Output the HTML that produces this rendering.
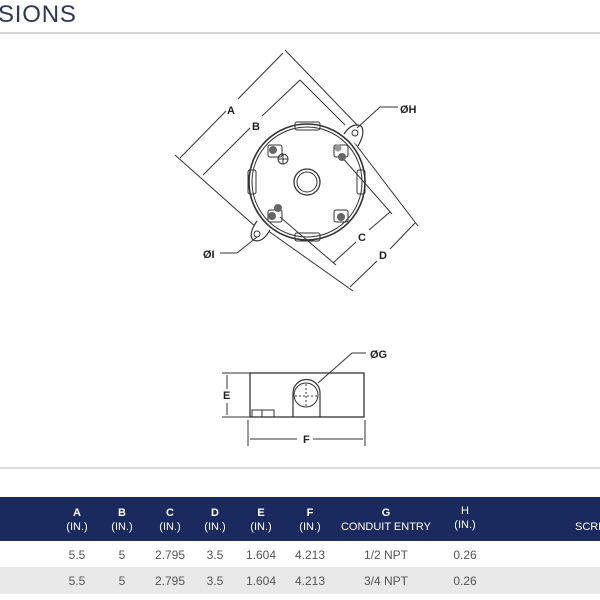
<!DOCTYPE html>
<html><head><style>
html,body{margin:0;padding:0;background:#fff;width:600px;height:600px;overflow:hidden;font-family:"Liberation Sans",sans-serif}
</style></head><body>
<svg width="600" height="600" viewBox="0 0 600 600" xmlns="http://www.w3.org/2000/svg" style="position:absolute;left:0;top:0">
<text x="-2" y="22" font-size="24" fill="#2d3a55" font-family="Liberation Sans" letter-spacing="0.8">SIONS</text>
<line x1="0" y1="33" x2="600" y2="33" stroke="#c8c8c8" stroke-width="1.5"/>
<line x1="0" y1="468" x2="600" y2="468" stroke="#d0d0d0" stroke-width="1.5"/>

<g stroke="#333" stroke-width="1" fill="none">
<!-- A -->
<line x1="180" y1="158" x2="226" y2="111"/><line x1="238" y1="99" x2="283" y2="53"/>
<line x1="285" y1="50" x2="360" y2="128"/><line x1="175" y1="155" x2="257" y2="228"/>
<!-- B -->
<line x1="203" y1="175" x2="250" y2="128"/><line x1="262" y1="116" x2="300" y2="80"/>
<line x1="300" y1="80" x2="345" y2="125"/>
<!-- C -->
<line x1="333" y1="263" x2="356" y2="242"/><line x1="369" y1="230" x2="390" y2="212"/>
<line x1="340" y1="155" x2="392" y2="214"/><line x1="280" y1="217" x2="336" y2="265"/>
<!-- D -->
<line x1="350" y1="287" x2="377" y2="261"/><line x1="390" y1="249" x2="415" y2="223"/>
<line x1="347" y1="133" x2="418" y2="226"/><line x1="257" y1="223" x2="353" y2="291"/>
<!-- tabs -->
<path d="M344 134 Q352 122 361 126 Q366 132 358 146" fill="#fff" stroke-width="1.2"/>
<circle cx="355" cy="133" r="3"/>
<path d="M270 230 Q262 244 253 240 Q248 234 257 221" fill="#fff" stroke-width="1.2"/>
<circle cx="257" cy="234" r="3"/>
<!-- circle -->
<circle cx="307" cy="182" r="58" stroke-width="1.6"/>
<circle cx="307" cy="182" r="55"/>
<circle cx="307" cy="182" r="13" stroke-width="1.3"/>
<circle cx="307" cy="182" r="10"/>
<!-- knockouts -->
<rect x="295" y="122" width="25" height="8" rx="2"/>
<rect x="295" y="233" width="25" height="8" rx="2"/>
<rect x="248" y="170" width="8" height="24" rx="2"/>
<rect x="357" y="170" width="8" height="24" rx="2"/>
<!-- screw bosses -->
<rect x="268" y="145" width="14" height="12" rx="2"/><rect x="334" y="145" width="14" height="12" rx="2"/>
<rect x="268" y="210" width="14" height="12" rx="2"/><rect x="334" y="210" width="14" height="12" rx="2"/>
<circle cx="283" cy="159" r="5"/><line x1="283" y1="154" x2="283" y2="164"/><line x1="278" y1="159" x2="288" y2="159"/>
<!-- leaders -->
<polyline points="357,128 380,107 398,107"/>
<polyline points="257,237 237,253 220,253"/>
</g>
<g fill="#666">
<circle cx="273" cy="150" r="4"/><circle cx="342" cy="157" r="4"/><circle cx="338" cy="148" r="3.5" fill="#999"/>
<circle cx="278" cy="208" r="4"/><circle cx="272" cy="216" r="4"/><circle cx="341" cy="217" r="4"/>
</g>
<g font-family="Liberation Sans" font-weight="bold" font-size="11" fill="#222">
<text x="227" y="114">A</text><text x="252" y="130">B</text>
<text x="358" y="241">C</text><text x="379" y="259">D</text>
<text x="400" y="113">ØH</text><text x="203" y="258">ØI</text>
<text x="370" y="358">ØG</text>
<text x="223" y="399">E</text><text x="303" y="443">F</text>
</g>

<!-- side view -->
<g stroke="#333" stroke-width="1" fill="none">
<rect x="250" y="373" width="114" height="44" stroke-width="1.3"/>
<line x1="222" y1="373" x2="250" y2="373"/><line x1="222" y1="417" x2="250" y2="417"/>
<line x1="227" y1="375" x2="227" y2="389"/><line x1="227" y1="403" x2="227" y2="415"/>
<line x1="248" y1="420" x2="248" y2="446"/><line x1="365" y1="420" x2="365" y2="446"/>
<line x1="250" y1="439" x2="297" y2="439"/><line x1="313" y1="439" x2="363" y2="439"/>
<path d="M293 417 L293 393 A13 13 0 0 1 320 393 L320 417" stroke-width="1.2"/>
<circle cx="306" cy="395" r="12"/>
<line x1="306" y1="384" x2="306" y2="408" stroke-dasharray="2 2"/><line x1="295" y1="396" x2="318" y2="396" stroke-dasharray="2 2"/>
<rect x="252" y="410" width="22" height="7"/><line x1="262" y1="410" x2="262" y2="417"/>
<polyline points="318,383 352,353 366,353"/>
</g>

<!-- table -->
<rect x="0" y="497" width="600" height="44" fill="#1b2a5e"/>
<rect x="0" y="567" width="600" height="27" fill="#e9e9e9"/>
<g font-family="Liberation Sans" fill="#fff" font-size="11" text-anchor="middle">
<g font-weight="bold"><text x="77" y="516">A</text><text x="122" y="516">B</text><text x="170" y="516">C</text><text x="215" y="516">D</text><text x="261" y="516">E</text><text x="310" y="516">F</text><text x="386" y="516">G</text></g>
<text x="465" y="514">H</text>
<text x="77" y="530">(IN.)</text><text x="122" y="530">(IN.)</text><text x="170" y="530">(IN.)</text><text x="215" y="530">(IN.)</text><text x="261" y="530">(IN.)</text><text x="310" y="530">(IN.)</text><text x="386" y="530">CONDUIT ENTRY</text><text x="465" y="528">(IN.)</text>
<text x="575" y="530" text-anchor="start">SCREW</text>
</g>
<g font-family="Liberation Sans" fill="#555" font-size="12" text-anchor="middle">
<text x="77" y="559">5.5</text><text x="122" y="559">5</text><text x="170" y="559">2.795</text><text x="215" y="559">3.5</text><text x="261" y="559">1.604</text><text x="310" y="559">4.213</text><text x="386" y="559">1/2 NPT</text><text x="465" y="559">0.26</text>
<text x="77" y="585">5.5</text><text x="122" y="585">5</text><text x="170" y="585">2.795</text><text x="215" y="585">3.5</text><text x="261" y="585">1.604</text><text x="310" y="585">4.213</text><text x="386" y="585">3/4 NPT</text><text x="465" y="585">0.26</text>
</g>
</svg>
</body></html>
